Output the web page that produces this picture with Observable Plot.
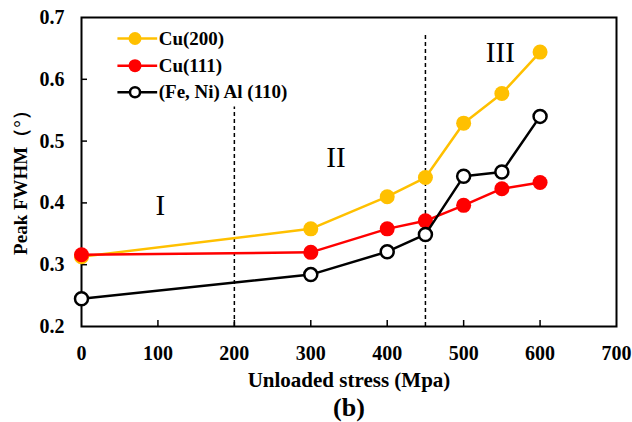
<!DOCTYPE html>
<html>
<head>
<meta charset="utf-8">
<script src="https://cdn.jsdelivr.net/npm/d3@7"></script>
<script src="https://cdn.jsdelivr.net/npm/@observablehq/plot@0.6"></script>
<style>
  html, body { margin: 0; padding: 0; background: #fff; }
</style>
</head>
<body>
<div id="chart"></div>
<script>
const stress = [0, 300, 400, 450, 500, 550, 600];
const cu200 = [0.313, 0.358, 0.410, 0.441, 0.529, 0.577, 0.644];
const cu111 = [0.316, 0.320, 0.358, 0.371, 0.396, 0.423, 0.433];
const fenial = [0.245, 0.284, 0.321, 0.349, 0.443, 0.450, 0.540];
const seriesNames = ["Cu(200)", "Cu(111)", "(Fe, Ni) Al (110)"];
const seriesColors = ["#FFC000", "#FF0000", "#000000"];
const xTicks = [0, 100, 200, 300, 400, 500, 600, 700];
const yTicks = [0.2, 0.3, 0.4, 0.5, 0.6, 0.7];
const dividerX = [200, 450];
const dividerTop = [0.555, 0.675];
const regionLabels = ["I", "II", "III"];
const regionX = [103, 333, 548];
const regionY = [0.396, 0.473, 0.643];
const legendY = [0.666, 0.622, 0.579];
const xLabel = "Unloaded stress (Mpa)";
const yLabel = "Peak FWHM（°）";
const caption = "(b)";

const W = 632, H = 422;
const mL = 81, mR = 16, mT = 17, mB = 96;
const pw = W - mL - mR, ph = H - mT - mB;

const rows = (vals) => stress.map((s, i) => ({x: s, y: vals[i]}));
const s200 = rows(cu200), s111 = rows(cu111), sFe = rows(fenial);
const dividers = dividerX.map((x, i) => ({x, y1: 0.2, y2: dividerTop[i]}));
const regions = regionLabels.map((t, i) => ({t, x: regionX[i], y: regionY[i]}));
const legend = seriesNames.map((n, i) => ({n, c: seriesColors[i], y: legendY[i], open: i === 2}));
const lx1 = 47, lx2 = 99, lxm = 70, ltx = 101;

const font = "'Liberation Serif', 'Times New Roman', serif";

const chart = Plot.plot({
  width: W, height: H,
  marginLeft: mL, marginRight: mR, marginTop: mT, marginBottom: mB,
  style: {fontFamily: font, fontWeight: "bold", background: "#fff", color: "#000"},
  x: {domain: [0, 700]},
  y: {domain: [0.2, 0.7]},
  marks: [
    Plot.axisX({ticks: xTicks, tickSize: 0, tickPadding: 19, tickFormat: d => String(d), fontSize: 20, fontWeight: "bold", label: null}),
    Plot.axisY({ticks: yTicks, tickSize: 0, tickPadding: 17, tickFormat: d => d.toFixed(1), fontSize: 20, fontWeight: "bold", label: null}),
    Plot.tickX(xTicks.slice(1, -1), {x: d => d, insetTop: ph - 6, stroke: "#000", strokeWidth: 1.5}),
    Plot.tickY(yTicks.slice(1, -1), {y: d => d, insetRight: pw - 6, stroke: "#000", strokeWidth: 1.5}),
    Plot.frame({stroke: "#000", strokeWidth: 2}),
    Plot.ruleX(dividers, {x: "x", y1: "y1", y2: "y2", stroke: "#000", strokeWidth: 1.5, strokeDasharray: "4,3"}),
    Plot.text(regions, {x: "x", y: "y", text: "t", fontSize: 29, fontWeight: "normal", textAnchor: "middle", lineAnchor: "middle"}),
    Plot.line(s200, {x: "x", y: "y", stroke: seriesColors[0], strokeWidth: 2.5}),
    Plot.dot(s200, {x: "x", y: "y", r: 7.5, fill: seriesColors[0], stroke: "none"}),
    Plot.line(s111, {x: "x", y: "y", stroke: seriesColors[1], strokeWidth: 2.5}),
    Plot.dot(s111, {x: "x", y: "y", r: 7.5, fill: seriesColors[1], stroke: "none"}),
    Plot.line(sFe, {x: "x", y: "y", stroke: seriesColors[2], strokeWidth: 2.5}),
    Plot.dot(sFe, {x: "x", y: "y", r: 6.5, fill: "#fff", stroke: seriesColors[2], strokeWidth: 2.5}),
    // legend
    Plot.link(legend, {x1: () => lx1, x2: () => lx2, y1: "y", y2: "y", stroke: "c", strokeWidth: 2.5}),
    Plot.dot(legend.filter(d => !d.open), {x: () => lxm, y: "y", r: 6.5, fill: "c", stroke: "none"}),
    Plot.dot(legend.filter(d => d.open), {x: () => lxm, y: "y", r: 5, fill: "#fff", stroke: "c", strokeWidth: 2.5}),
    Plot.text(legend, {x: () => ltx, y: "y", text: "n", textAnchor: "start", lineAnchor: "middle", fontSize: 19, fontWeight: "bold", fill: "#000"}),
    // axis titles and caption
    Plot.text([xLabel], {frameAnchor: "bottom", dy: 54, text: d => d, fontSize: 21, fontWeight: "bold", textAnchor: "middle", lineAnchor: "middle"}),
    Plot.text([caption], {frameAnchor: "bottom", dy: 81, text: d => d, fontSize: 26, fontWeight: "bold", textAnchor: "middle", lineAnchor: "middle"}),
    Plot.text([yLabel], {frameAnchor: "left", dx: -61, dy: 6, rotate: -90, text: d => d, fontSize: 19, fontWeight: "bold", textAnchor: "middle", lineAnchor: "middle"})
  ]
});
document.getElementById("chart").appendChild(chart);
</script>
</body>
</html>
